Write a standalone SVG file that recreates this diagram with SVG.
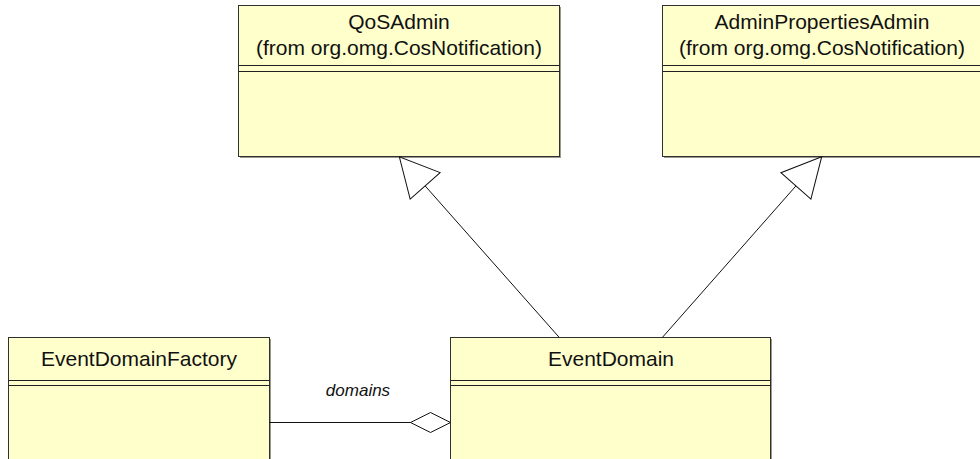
<svg xmlns="http://www.w3.org/2000/svg" width="980" height="459" viewBox="0 0 980 459">
  <style>
    .shadow { fill: #9a9a8a; stroke: none; }
    .box { fill: #ffffcc; stroke: #303030; stroke-width: 1; }
    .div { stroke: #202020; stroke-width: 1; fill: none; }
    .name { font-family: "Liberation Sans", Arial, sans-serif; font-size: 21px; fill: #111; text-anchor: middle; }
    .lbl { font-family: "Liberation Sans", Arial, sans-serif; font-size: 17px; font-style: italic; fill: #111; text-anchor: middle; }
    .edge { stroke: #111; stroke-width: 1; fill: none; }
  </style>
  <defs>
    <marker id="gen" markerUnits="userSpaceOnUse" viewBox="-1 -1 41 42" refX="39" refY="20" markerWidth="41" markerHeight="42" orient="auto" overflow="visible">
      <path d="M39,20 L0,0 L0,40 Z" fill="#ffffff" stroke="#111" stroke-width="1"/>
    </marker>
    <marker id="agg" markerUnits="userSpaceOnUse" viewBox="-1 -1 42 22" refX="40" refY="10" markerWidth="42" markerHeight="22" orient="auto" overflow="visible">
      <path d="M0,10 L20,0 L40,10 L20,20 Z" fill="#ffffff" stroke="#111" stroke-width="1"/>
    </marker>
  </defs>

  <g id="QoSAdmin">
    <rect class="shadow" x="240" y="7" width="321" height="151"/>
    <rect class="box" x="238.5" y="5.5" width="321" height="151"/>
    <line class="div" x1="238.5" y1="65.5" x2="559.5" y2="65.5"/>
    <line class="div" x1="238.5" y1="71.5" x2="559.5" y2="71.5"/>
    <text class="name" x="399" y="29">QoSAdmin</text>
    <text class="name" x="399" y="55">(from org.omg.CosNotification)</text>
  </g>

  <g id="AdminPropertiesAdmin">
    <rect class="shadow" x="664" y="7" width="330" height="151"/>
    <rect class="box" x="662.5" y="5.5" width="330" height="151"/>
    <line class="div" x1="662.5" y1="65.5" x2="992.5" y2="65.5"/>
    <line class="div" x1="662.5" y1="71.5" x2="992.5" y2="71.5"/>
    <text class="name" x="822" y="29">AdminPropertiesAdmin</text>
    <text class="name" x="822" y="55">(from org.omg.CosNotification)</text>
  </g>

  <g id="EventDomainFactory">
    <rect class="shadow" x="10" y="339" width="261" height="140"/>
    <rect class="box" x="8.5" y="337.5" width="261" height="140"/>
    <line class="div" x1="8.5" y1="380.5" x2="269.5" y2="380.5"/>
    <line class="div" x1="8.5" y1="385.5" x2="269.5" y2="385.5"/>
    <text class="name" x="139" y="365.5">EventDomainFactory</text>
  </g>

  <g id="EventDomain">
    <rect class="shadow" x="452" y="339" width="320" height="140"/>
    <rect class="box" x="450.5" y="337.5" width="320" height="140"/>
    <line class="div" x1="450.5" y1="380.5" x2="770.5" y2="380.5"/>
    <line class="div" x1="450.5" y1="385.5" x2="770.5" y2="385.5"/>
    <text class="name" x="611" y="365.5">EventDomain</text>
  </g>

  <g id="connectors">
    <line class="edge" x1="559.3" y1="337.5" x2="399.3" y2="156.7" marker-end="url(#gen)"/>
    <line class="edge" x1="662.3" y1="337.5" x2="821.7" y2="156.7" marker-end="url(#gen)"/>
    <line class="edge" x1="269.5" y1="422.5" x2="450.5" y2="422.5" marker-end="url(#agg)"/>
    <text class="lbl" x="358" y="396">domains</text>
  </g>
</svg>
